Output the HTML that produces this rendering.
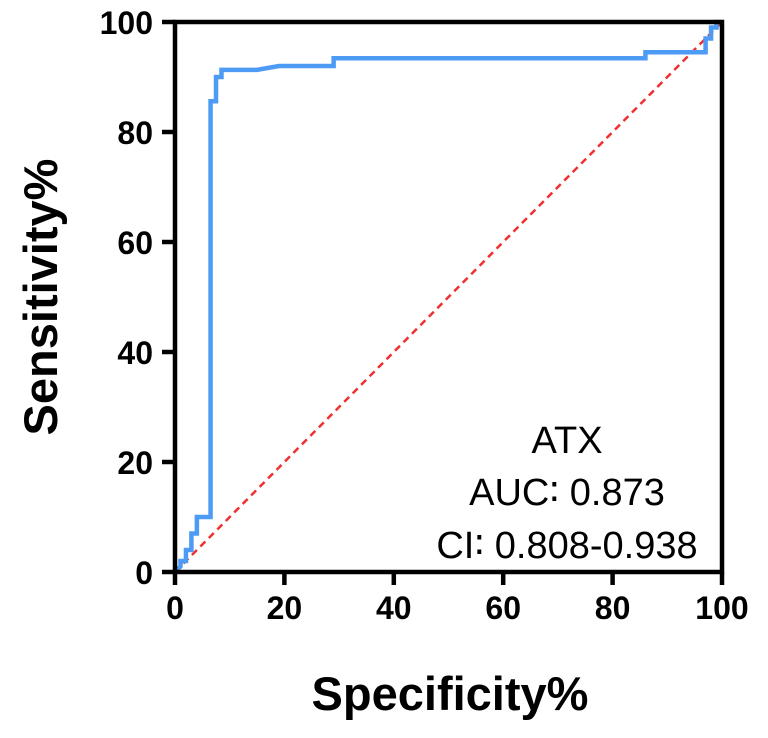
<!DOCTYPE html>
<html><head><meta charset="utf-8"><style>
body{margin:0;background:#fff}
svg{display:block;font-family:"Liberation Sans",Arial,sans-serif}
</style></head><body>
<svg width="768" height="738" viewBox="0 0 768 738">
<g id="g"></g>
</svg>
<script>
const xTicks=[0,20,40,60,80,100];
const yTicks=[0,20,40,60,80,100];
const rocX=[0,1,1,2,2,3,3,4,4,6.5,6.5,7.5,7.5,8.5,8.5,15,19,29,29,86,86,97,97,98,98,99,99,100];
const rocY=[0,1,2,2,4,4,7,7,10,10,85.6,85.6,90,90,91.3,91.3,92,92,93.4,93.4,94.5,94.5,97,97,99,99,100,100];
const X0=175,X1=722,Y0=572,Y1=22;
const sx=v=>X0+(X1-X0)*v/100, sy=v=>Y0-(Y0-Y1)*v/100;
const NS="http://www.w3.org/2000/svg",g=document.getElementById('g');
function mk(t,a,txt){const e=document.createElementNS(NS,t);for(const k in a)e.setAttribute(k,a[k]);if(txt!=null)e.textContent=txt;g.appendChild(e);return e;}
let d=mk('line',{x1:sx(0),y1:sy(0),x2:sx(100),y2:sy(100),stroke:'#f03030','stroke-width':2.5,'stroke-dasharray':'7,5'});


let pts=rocX.map((x,i)=>sx(x)+','+sy(rocY[i])).join(' ');
let c=mk('polyline',{points:pts,fill:'none',stroke:'#4d9bf5','stroke-width':4.5,'stroke-linejoin':'miter'});


let f=mk('rect',{x:X0,y:Y1,width:X1-X0,height:Y0-Y1,fill:'none',stroke:'#000','stroke-width':4.5});


xTicks.forEach(v=>{
 let t=mk('line',{x1:sx(v),y1:Y0,x2:sx(v),y2:Y0+13,stroke:'#000','stroke-width':4.5});
 
 
 let l=mk('text',{x:sx(v),y:Y0+47,'text-anchor':'middle','font-size':32,'font-weight':'bold'},v);
 
 
});
yTicks.forEach(v=>{
 let t=mk('line',{x1:X0-13,y1:sy(v),x2:X0,y2:sy(v),stroke:'#000','stroke-width':4.5});
 
 
 let l=mk('text',{x:X0-22,y:sy(v)+12,'text-anchor':'end','font-size':32,'font-weight':'bold'},v);
 
 
});
let xt=mk('text',{x:450,y:710,'text-anchor':'middle','font-size':47,'font-weight':'bold'},'Specificity%');


let yt=mk('text',{x:0,y:0,'text-anchor':'middle','font-size':47,'font-weight':'bold',transform:'translate(57,297) rotate(-90)'},'Sensitivity%');


[['ATX',453,'legend-title'],['AUC\u2236 0.873',505,'auc-label'],['CI\u2236 0.808-0.938',558,'ci-label']].forEach(a=>{
 let t=mk('text',{x:567,y:a[1],'text-anchor':'middle','font-size':38},a[0]);
 
 
});
</script>
</body></html>
